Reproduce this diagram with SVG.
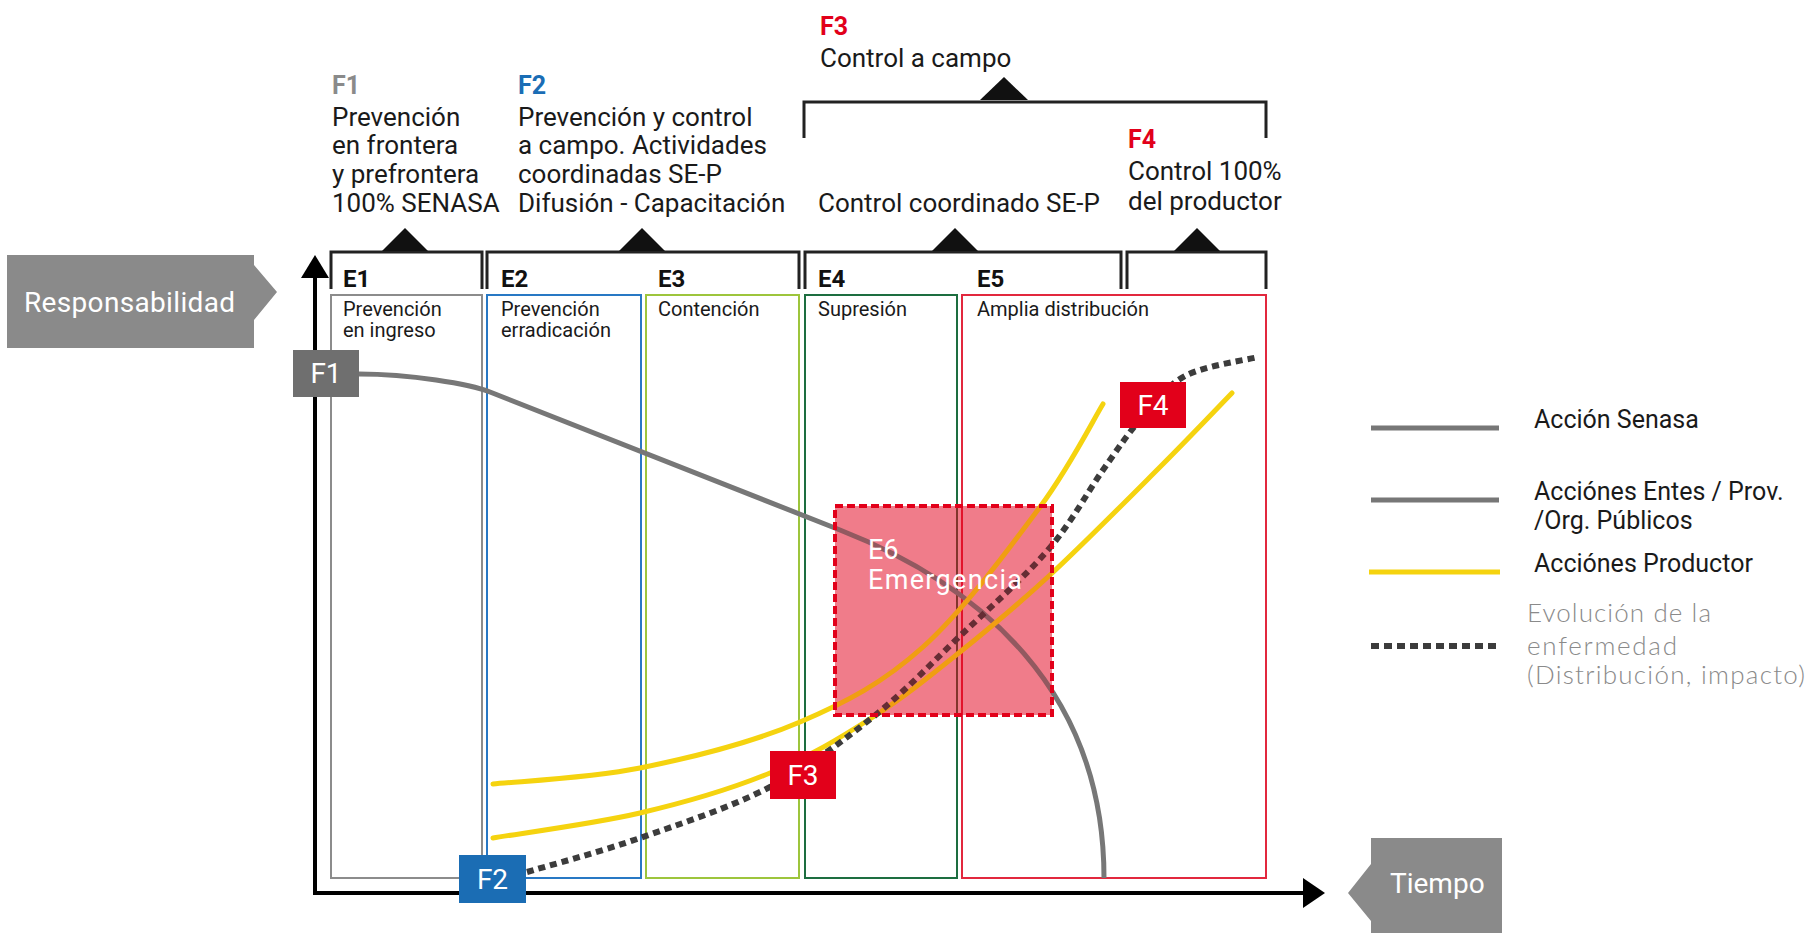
<svg xmlns="http://www.w3.org/2000/svg" width="1816" height="933" viewBox="0 0 1816 933">
<style>
text{font-family:Roboto,"Liberation Sans",sans-serif}
.hdr{font-size:26px;fill:#1a1a1a}
.flab{font-size:25px;font-weight:700}
.elab{font-size:24px;font-weight:700;fill:#111}
.box{font-size:20px;fill:#1a1a1a}
.leg{font-size:25px;fill:#1a1a1a}
.light{font-family:Lato,"Open Sans",sans-serif;font-weight:300;font-size:26px;fill:#8a8a8a}
.wt{fill:#fff;font-size:28px;text-anchor:middle}
.brk{fill:none;stroke:#222;stroke-width:3}
.tri{fill:#111}
.stage{fill:none;stroke-width:2}
.axis{stroke:#000;stroke-width:4;fill:none}
.senasa{fill:none;stroke:#777;stroke-width:5}
.yel{fill:none;stroke:#f5d30f;stroke-width:5;stroke-linecap:round}
.dot{fill:none;stroke:#3c3c3c;stroke-width:6}
</style>

<g id="responsabilidad">
<path d="M7,255 H254 V265 L277,292 L254,320 V348 H7 Z" fill="#8a8a8a"/>
<text x="24" y="312" fill="#fff" font-size="28" textLength="211">Responsabilidad</text>
</g>
<g id="tiempo">
<path d="M1502,838 H1371 V864 L1348,893 L1371,921 V933 H1502 Z" fill="#8a8a8a"/>
<text x="1390" y="893" fill="#fff" font-size="28">Tiempo</text>
</g>

<g id="brackets">
<path class="brk" d="M331,289 V252 H482 V289"/>
<path class="brk" d="M487,289 V252 H799 V289"/>
<path class="brk" d="M805,289 V252 H1121 V289"/>
<path class="brk" d="M1127,289 V252 H1266 V289"/>
<path class="brk" d="M804,138 V102 H1266 V138"/>
<path class="tri" d="M382,251 L405,228 L428,251 Z"/>
<path class="tri" d="M619,251 L642,228 L665,251 Z"/>
<path class="tri" d="M932,251 L955,228 L978,251 Z"/>
<path class="tri" d="M1174,251 L1197,228 L1220,251 Z"/>
<path class="tri" d="M980,100 L1004,77 L1028,100 Z"/>
</g>

<g id="phase-F1">
<text class="flab" x="332" y="94" fill="#8a8a8a">F1</text>
<text class="hdr" x="332" y="126">Prevención</text>
<text class="hdr" x="332" y="154">en frontera</text>
<text class="hdr" x="332" y="183">y prefrontera</text>
<text class="hdr" x="332" y="212">100% SENASA</text>
</g>
<g id="phase-F2">
<text class="flab" x="518" y="94" fill="#1a6db5">F2</text>
<text class="hdr" x="518" y="126">Prevención y control</text>
<text class="hdr" x="518" y="154">a campo. Actividades</text>
<text class="hdr" x="518" y="183">coordinadas SE-P</text>
<text class="hdr" x="518" y="212">Difusión - Capacitación</text>
</g>
<g id="phase-F3">
<text class="flab" x="820" y="35" fill="#e2001a">F3</text>
<text class="hdr" x="820" y="67">Control a campo</text>
<text class="hdr" x="818" y="212">Control coordinado SE-P</text>
</g>
<g id="phase-F4">
<text class="flab" x="1128" y="148" fill="#e2001a">F4</text>
<text class="hdr" x="1128" y="180">Control 100%</text>
<text class="hdr" x="1128" y="210">del productor</text>
</g>

<g id="stage-E1">
<rect class="stage" x="331" y="295" width="151" height="583" stroke="#8c8c8c"/>
<text class="elab" x="343" y="287">E1</text>
<text class="box" x="343" y="316">Prevención</text>
<text class="box" x="343" y="337">en ingreso</text>
</g>
<g id="stage-E2">
<rect class="stage" x="487" y="295" width="154" height="583" stroke="#2878c4"/>
<text class="elab" x="501" y="287">E2</text>
<text class="box" x="501" y="316">Prevención</text>
<text class="box" x="501" y="337">erradicación</text>
</g>
<g id="stage-E3">
<rect class="stage" x="646" y="295" width="153" height="583" stroke="#9dc53c"/>
<text class="elab" x="658" y="287">E3</text>
<text class="box" x="658" y="316">Contención</text>
</g>
<g id="stage-E4">
<rect class="stage" x="805" y="295" width="152" height="583" stroke="#1d6e40"/>
<text class="elab" x="818" y="287">E4</text>
<text class="box" x="818" y="316">Supresión</text>
</g>
<g id="stage-E5">
<rect class="stage" x="962" y="295" width="304" height="583" stroke="#e2283e"/>
<text class="elab" x="977" y="287">E5</text>
<text class="box" x="977" y="316">Amplia distribución</text>
</g>

<rect id="E6-base" x="835" y="506" width="217" height="209" fill="#e2001a" fill-opacity="0.35"/>

<g id="connectors">
<path class="axis" d="M315,893 V276"/>
<path d="M301,278 L315,255 L329,278 Z" fill="#000"/>
<path class="axis" d="M313,893 H1304"/>
<path d="M1303,878 L1325,893 L1303,908 Z" fill="#000"/>
<path class="senasa" d="M359,374 C410,374 470,384 490,392 L840,530 C980,585 1104,690 1104,878"/>
<path class="yel" d="M493,784 C517.5,781.3 588.8,778.3 640,768 C691.2,757.7 752.8,742.2 800,722 C847.2,701.8 883,682.8 923,647 C963,611.2 1010,547.5 1040,507 C1070,466.5 1092.5,421.2 1103,404"/>
<path class="yel" d="M493,838 C517.5,833.8 593.8,823.8 640,813 C686.2,802.2 731.2,789 770,773 C808.8,757 841.3,737.2 873,717 C904.7,696.8 930.5,675.7 960,652 C989.5,628.3 1016.7,605.8 1050,575 C1083.3,544.2 1129.7,497.3 1160,467 C1190.3,436.7 1220,405.3 1232,393"/>
<path class="dot" stroke-dasharray="7 5" d="M527,872 C545.8,866.3 599.5,852.2 640,838 C680.5,823.8 731.2,807.2 770,787 C808.8,766.8 841.3,742.2 873,717 C904.7,691.8 930.8,663.8 960,636 C989.2,608.2 1024.2,577.7 1048,550 C1071.8,522.3 1087.7,491.7 1103,470 C1118.3,448.3 1126.3,435.7 1140,420 C1153.7,404.3 1165.3,386.5 1185,376 C1204.7,365.5 1245.8,360.2 1258,357"/>
</g>

<g id="E6">
<rect x="835" y="506" width="217" height="209" fill="#e2001a" fill-opacity="0.25" stroke="#e2001a" stroke-width="4" stroke-dasharray="8 4"/>
<text x="868" y="559" fill="#fff" font-size="27">E6</text>
<text x="868" y="589" fill="#fff" font-size="27" textLength="154">Emergencia</text>
</g>

<g id="F1-box">
<rect x="293" y="350" width="66" height="47" fill="#6f6f6f"/>
<text class="wt" x="326" y="383">F1</text>
</g>
<g id="F2-box">
<rect x="459" y="855" width="67" height="48" fill="#1b6db4"/>
<text class="wt" x="492.5" y="889">F2</text>
</g>
<g id="F3-box">
<rect x="770" y="751" width="66" height="48" fill="#e2001a"/>
<text class="wt" x="803" y="785">F3</text>
</g>
<g id="F4-box">
<rect x="1120" y="382" width="66" height="46" fill="#e2001a"/>
<text class="wt" x="1153" y="415">F4</text>
</g>

<g id="legend">
<line x1="1371" y1="428" x2="1499" y2="428" stroke="#777" stroke-width="5"/>
<text class="leg" x="1534" y="428">Acción Senasa</text>
<line x1="1371" y1="500" x2="1499" y2="500" stroke="#777" stroke-width="5"/>
<text class="leg" x="1534" y="500">Acciónes Entes / Prov.</text>
<text class="leg" x="1534" y="529">/Org. Públicos</text>
<line x1="1369" y1="572" x2="1500" y2="572" stroke="#f5d30f" stroke-width="5"/>
<text class="leg" x="1534" y="572">Acciónes Productor</text>
<line x1="1371" y1="646" x2="1499" y2="646" stroke="#3c3c3c" stroke-width="6" stroke-dasharray="8 5"/>
<text class="light" x="1527" y="622" textLength="184">Evolución de la</text>
<text class="light" x="1527" y="655" textLength="150">enfermedad</text>
<text class="light" x="1527" y="684" textLength="278">(Distribución, impacto)</text>
</g>
</svg>
